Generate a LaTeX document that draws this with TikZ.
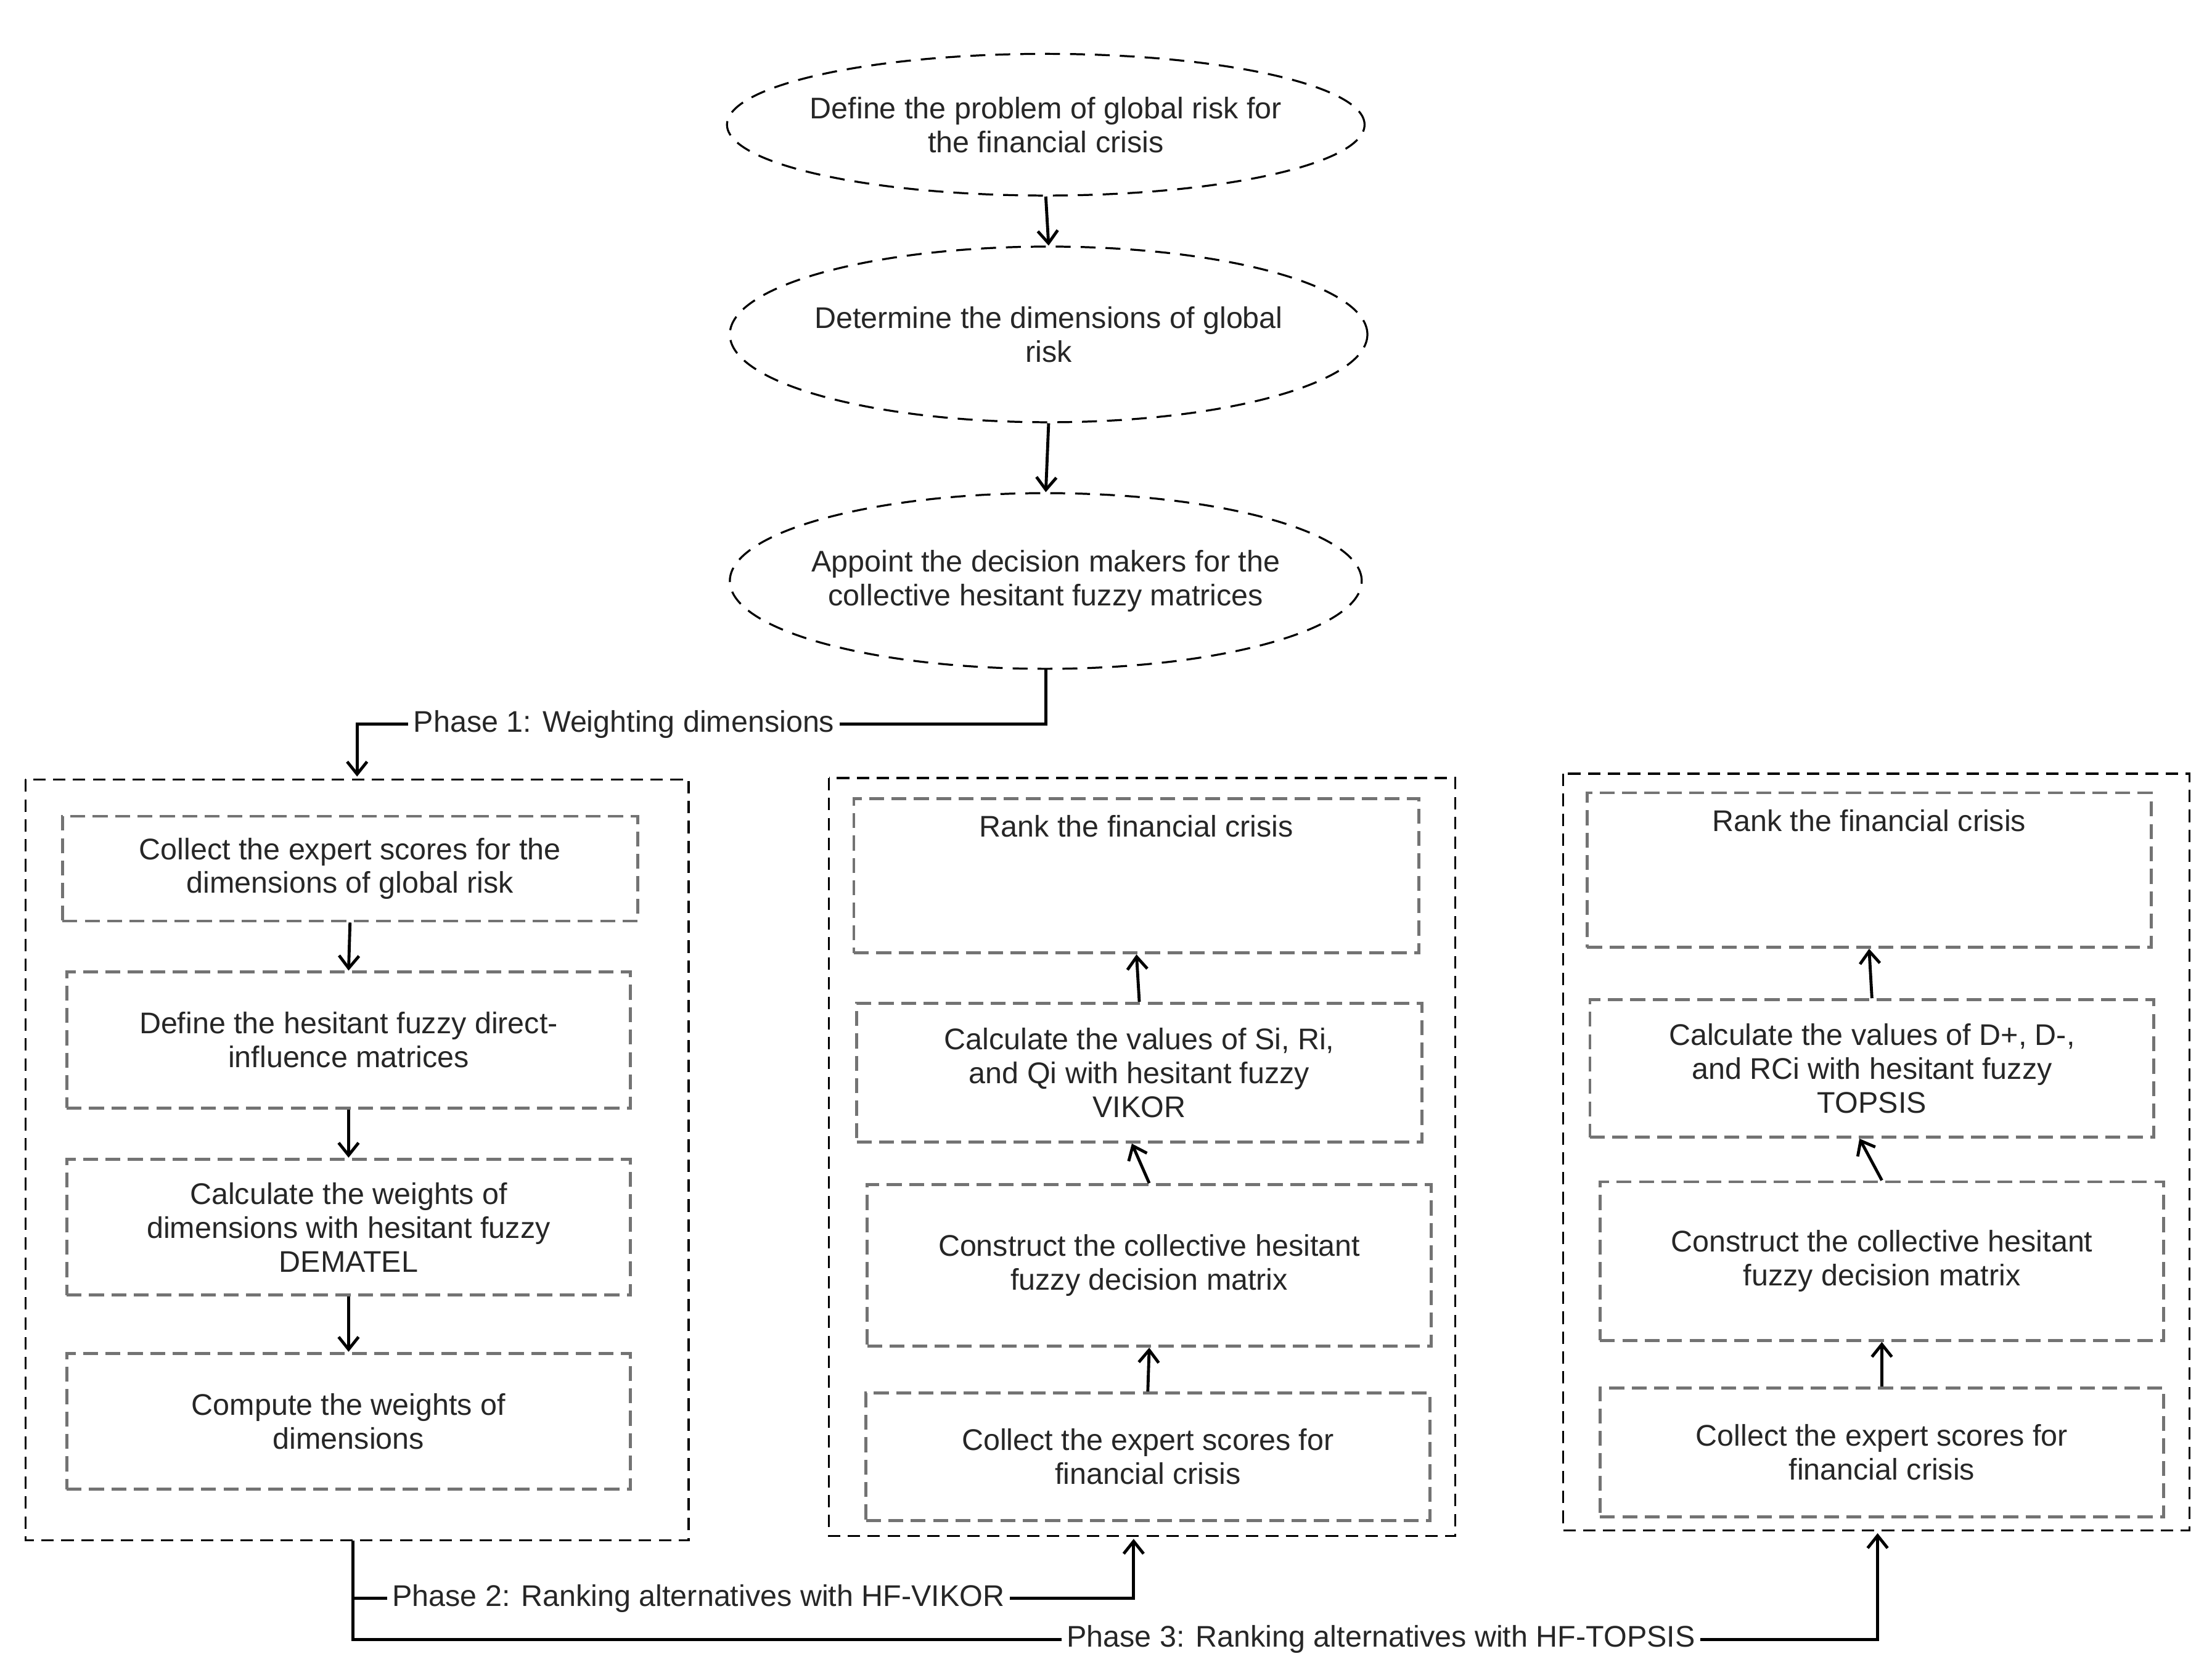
\documentclass[tikz,border=0pt]{standalone}
\usepackage{fontspec}
\setmainfont{Liberation Sans}
\usetikzlibrary{shapes.geometric,arrows.meta}
\begin{document}
\begin{tikzpicture}[x=0.02cm,y=-0.02cm,
 txt/.style={font=\fontsize{12}{13.6}\selectfont,align=center,text=black!85},
 ell/.style={draw,dashed,ellipse,thick,dash pattern=on 6pt off 4pt},
 outer/.style={draw,thick,dash pattern=on 5pt off 3pt},
 inner/.style={draw=black!55,very thick,dash pattern=on 6pt off 3pt},
 arr/.style={very thick,-{Straight Barb[length=5pt,width=8pt]}},
 ln/.style={very thick}]
\useasboundingbox (0,0) rectangle (1561,1182);
% ellipses
\node[ell,minimum width=450\pgflinewidth, minimum width=9cm,minimum height=2cm] (e1) at (738,88) {};
\node[txt] at (738,88) {Define the problem of global risk for\\the financial crisis};
\node[ell,minimum width=9cm,minimum height=2.48cm] (e2) at (740,236) {};
\node[txt] at (740,236) {Determine the dimensions of global\\risk};
\node[ell,minimum width=8.92cm,minimum height=2.48cm] (e3) at (738,410) {};
\node[txt] at (738,410) {Appoint the decision makers for the\\collective hesitant fuzzy matrices};
\draw[arr] (e1.south) -- (e2.north);
\draw[arr] (e2.south) -- (e3.north);
% phase 1
\node[txt,anchor=west,inner sep=2pt] (p1) at (288,511) {Phase 1: Weighting dimensions};
\coordinate (c1) at (738,511);
\coordinate (c2) at (252,511);
\coordinate (t1) at (252,548);
\draw[ln] (e3.south) -- (c1) -- (p1.east);
\draw[arr] (p1.west) -- (c2) -- (t1);
% box 1
\draw[outer] (18,550) rectangle (486,1087);
\node[inner,minimum width=8.12cm,minimum height=1.48cm,txt] (b1) at (247,613) {Collect the expert scores for the\\dimensions of global risk};
\node[inner,minimum width=7.96cm,minimum height=1.92cm,txt] (b2) at (246,734) {Define the hesitant fuzzy direct-\\influence matrices};
\node[inner,minimum width=7.96cm,minimum height=1.92cm,txt] (b3) at (246,866) {Calculate the weights of\\dimensions with hesitant fuzzy\\DEMATEL};
\node[inner,minimum width=7.96cm,minimum height=1.92cm,txt] (b4) at (246,1003) {Compute the weights of\\dimensions};
\draw[arr] (b1.south) -- (b2.north);
\draw[arr] (b2.south) -- (b3.north);
\draw[arr] (b3.south) -- (b4.north);
% box 2
\draw[outer] (585,549) rectangle (1027,1084);
\node[inner,minimum width=7.98cm,minimum height=2.18cm,txt] (v1) at (802,618) {Rank the financial crisis\\[2.2em]};
\node[inner,minimum width=7.98cm,minimum height=1.96cm,txt] (v2) at (804,757) {Calculate the values of Si, Ri,\\and Qi with hesitant fuzzy\\VIKOR};
\node[inner,minimum width=7.96cm,minimum height=2.28cm,txt] (v3) at (811,893) {Construct the collective hesitant\\fuzzy decision matrix};
\node[inner,minimum width=7.96cm,minimum height=1.8cm,txt] (v4) at (810,1028) {Collect the expert scores for\\financial crisis};
\draw[arr] (v2.north) -- (v1.south);
\draw[arr] (v3.north) -- ([xshift=-3]v2.south);
\draw[arr] (v4.north) -- (v3.south);
% box 3
\draw[outer] (1103,546) rectangle (1545,1080);
\node[inner,minimum width=7.96cm,minimum height=2.18cm,txt] (t1b) at (1319,614) {Rank the financial crisis\\[2.2em]};
\node[inner,minimum width=7.96cm,minimum height=1.94cm,txt] (t2) at (1321,754) {Calculate the values of D+, D-,\\and RCi with hesitant fuzzy\\TOPSIS};
\node[inner,minimum width=7.96cm,minimum height=2.24cm,txt] (t3) at (1328,890) {Construct the collective hesitant\\fuzzy decision matrix};
\node[inner,minimum width=7.96cm,minimum height=1.82cm,txt] (t4) at (1328,1025) {Collect the expert scores for\\financial crisis};
\draw[arr] (t2.north) -- (t1b.south);
\draw[arr] (t3.north) -- ([xshift=-5]t2.south);
\draw[arr] (t4.north) -- (t3.south);
% phases 2 and 3
\node[txt,anchor=west,inner sep=2pt] (p2) at (273,1128) {Phase 2: Ranking alternatives with HF-VIKOR};
\node[txt,anchor=west,inner sep=2pt] (p3) at (749,1157) {Phase 3: Ranking alternatives with HF-TOPSIS};
\coordinate (s1) at (249,1087);
\coordinate (s2) at (249,1128);
\coordinate (s3) at (249,1157);
\coordinate (r2) at (800,1128);
\coordinate (u2) at (800,1086);
\coordinate (r3) at (1325,1157);
\coordinate (u3) at (1325,1082);
\draw[ln] (s1) -- (s3) -- (p3.west);
\draw[ln] (s2) -- (p2.west);
\draw[arr] (p2.east) -- (r2) -- (u2);
\draw[arr] (p3.east) -- (r3) -- (u3);
\end{tikzpicture}
\end{document}
